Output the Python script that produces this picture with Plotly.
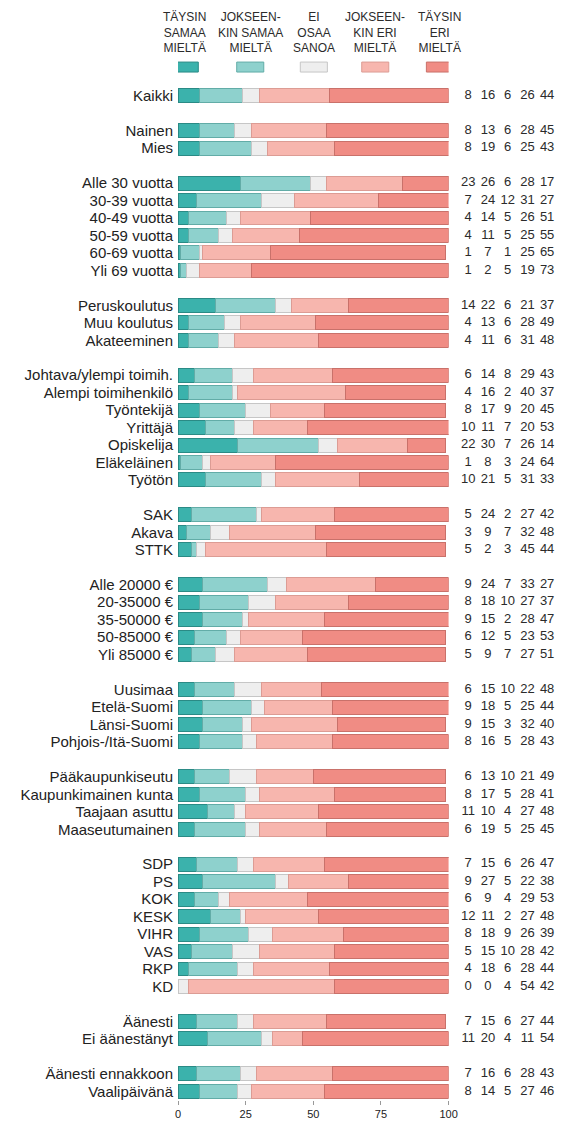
import plotly.graph_objects as go

groups = [
    ["Kaikki"],
    ["Nainen", "Mies"],
    ["Alle 30 vuotta", "30-39 vuotta", "40-49 vuotta", "50-59 vuotta", "60-69 vuotta", "Yli 69 vuotta"],
    ["Peruskoulutus", "Muu koulutus", "Akateeminen"],
    ["Johtava/ylempi toimih.", "Alempi toimihenkilö", "Työntekijä", "Yrittäjä", "Opiskelija", "Eläkeläinen", "Työtön"],
    ["SAK", "Akava", "STTK"],
    ["Alle 20000 €", "20-35000 €", "35-50000 €", "50-85000 €", "Yli 85000 €"],
    ["Uusimaa", "Etelä-Suomi", "Länsi-Suomi", "Pohjois-/Itä-Suomi"],
    ["Pääkaupunkiseutu", "Kaupunkimainen kunta", "Taajaan asuttu", "Maaseutumainen"],
    ["SDP", "PS", "KOK", "KESK", "VIHR", "VAS", "RKP", "KD"],
    ["Äänesti", "Ei äänestänyt"],
    ["Äänesti ennakkoon", "Vaalipäivänä"],
]

taysin_samaa = [8, 8, 8, 23, 7, 4, 4, 1, 1, 14, 4, 4, 6, 4, 8, 10, 22, 1, 10, 5, 3, 5,
                9, 8, 9, 6, 5, 6, 9, 9, 8, 6, 8, 11, 6, 7, 9, 6, 12, 8, 5, 4, 0, 7, 11, 7, 8]
jokseenkin_samaa = [16, 13, 19, 26, 24, 14, 11, 7, 2, 22, 13, 11, 14, 16, 17, 11, 30, 8, 21, 24, 9, 2,
                    24, 18, 15, 12, 9, 15, 18, 15, 16, 13, 17, 10, 19, 15, 27, 9, 11, 18, 15, 18, 0, 15, 20, 16, 14]
ei_osaa = [6, 6, 6, 6, 12, 5, 5, 1, 5, 6, 6, 6, 8, 2, 9, 7, 7, 3, 5, 2, 7, 3,
           7, 10, 2, 5, 7, 10, 5, 3, 5, 10, 5, 4, 5, 6, 5, 4, 2, 9, 10, 6, 4, 6, 4, 6, 5]
jokseenkin_eri = [26, 28, 25, 28, 31, 26, 25, 25, 19, 21, 28, 31, 29, 40, 20, 20, 26, 24, 31, 27, 32, 45,
                  33, 27, 28, 23, 27, 22, 25, 32, 28, 21, 28, 27, 25, 26, 22, 29, 27, 26, 28, 28, 54, 27, 11, 28, 27]
taysin_eri = [44, 45, 43, 17, 27, 51, 55, 65, 73, 37, 49, 48, 43, 37, 45, 53, 14, 64, 33, 42, 48, 44,
              27, 37, 47, 53, 51, 48, 44, 40, 43, 49, 41, 48, 45, 47, 38, 53, 48, 39, 42, 44, 42, 44, 54, 43, 46]

series_names = ["TÄYSIN<br>SAMAA<br>MIELTÄ", "JOKSEEN-<br>KIN SAMAA<br>MIELTÄ", "EI<br>OSAA<br>SANOA",
                "JOKSEEN-<br>KIN ERI<br>MIELTÄ", "TÄYSIN<br>ERI<br>MIELTÄ"]
series_values = [taysin_samaa, jokseenkin_samaa, ei_osaa, jokseenkin_eri, taysin_eri]
fill_colors = ["#3bb2ac", "#8ed1cd", "#eeeeee", "#f7b6ae", "#f08c84"]
line_colors = ["#2a8a85", "#62aca7", "#c6c6c6", "#dc9c94", "#c9716a"]
legend_centers = [2.5, 26.7, 50.2, 72.9, 96.8]
tick_values = [0, 25, 50, 75, 100]

# row positions (one blank slot between groups)
labels, ypos = [], []
pos = 0
for gi, g in enumerate(groups):
    if gi > 0:
        pos += 1
    for lab in g:
        labels.append(lab)
        ypos.append(pos)
        pos += 1
n_slots = pos

FONT = "Liberation Sans, Arial, sans-serif"

fig = go.Figure()
for name, vals, fc, lc in zip(series_names, series_values, fill_colors, line_colors):
    fig.add_trace(go.Bar(
        x=vals, y=ypos, orientation="h", name=name,
        marker=dict(color=fc, line=dict(color=lc, width=1)),
        hoverinfo="skip", showlegend=False,
    ))

# numbers at right
tx, ty, tt = [], [], []
for ci, vals in enumerate(series_values):
    for y, v in zip(ypos, vals):
        tx.append(ci + 1)
        ty.append(y)
        tt.append(str(v))
fig.add_trace(go.Scatter(
    x=tx, y=ty, text=tt, mode="text", xaxis="x2", yaxis="y",
    textfont=dict(family=FONT, size=13, color="#2b2b2b"),
    hoverinfo="skip", showlegend=False,
))

W, H = 570, 1124
ml, mr = 178, 4
mt, mb = 87, 21
pw = W - ml - mr
ph = H - mt - mb

def py(pix):
    return (H - mb - pix) / ph

shapes, annotations = [], []
for name, fc, lc, cx in zip(series_names, fill_colors, line_colors, legend_centers):
    shapes.append(dict(type="rect", xref="x", yref="paper", x0=cx - 5, x1=cx + 5,
                       y0=py(72), y1=py(62), fillcolor=fc, line=dict(color=lc, width=1)))
    annotations.append(dict(text=name, xref="x", yref="paper", x=cx, y=py(32),
                            xanchor="center", yanchor="middle", showarrow=False,
                            font=dict(family=FONT, size=12, color="#2b2b2b")))

fig.update_layout(
    width=W, height=H, autosize=False,
    margin=dict(l=ml, r=mr, t=mt, b=mb),
    paper_bgcolor="white", plot_bgcolor="white",
    barmode="stack", bargap=0.2,
    font=dict(family=FONT, color="#222222"),
    xaxis=dict(domain=[0, 277 / pw], range=[0, 100], tickvals=tick_values,
               ticks="outside", ticklen=4, tickcolor="#999999", showgrid=False,
               zeroline=False, showline=False, tickfont=dict(size=11, color="#222222")),
    xaxis2=dict(domain=[(465 - ml) / pw, 1], range=[0.5, 5.5], visible=False, anchor="y"),
    yaxis=dict(range=[n_slots - 0.5, -0.5], tickvals=ypos, ticktext=labels,
               showgrid=False, zeroline=False, showline=False, ticks="",
               ticklabelstandoff=4, tickfont=dict(size=15, color="#222222")),
    shapes=shapes, annotations=annotations,
)

fig.write_html("out.html",
               config={"displayModeBar": False, "responsive": False},
               post_script="document.body.style.margin='0';document.body.style.overflow='hidden';")
